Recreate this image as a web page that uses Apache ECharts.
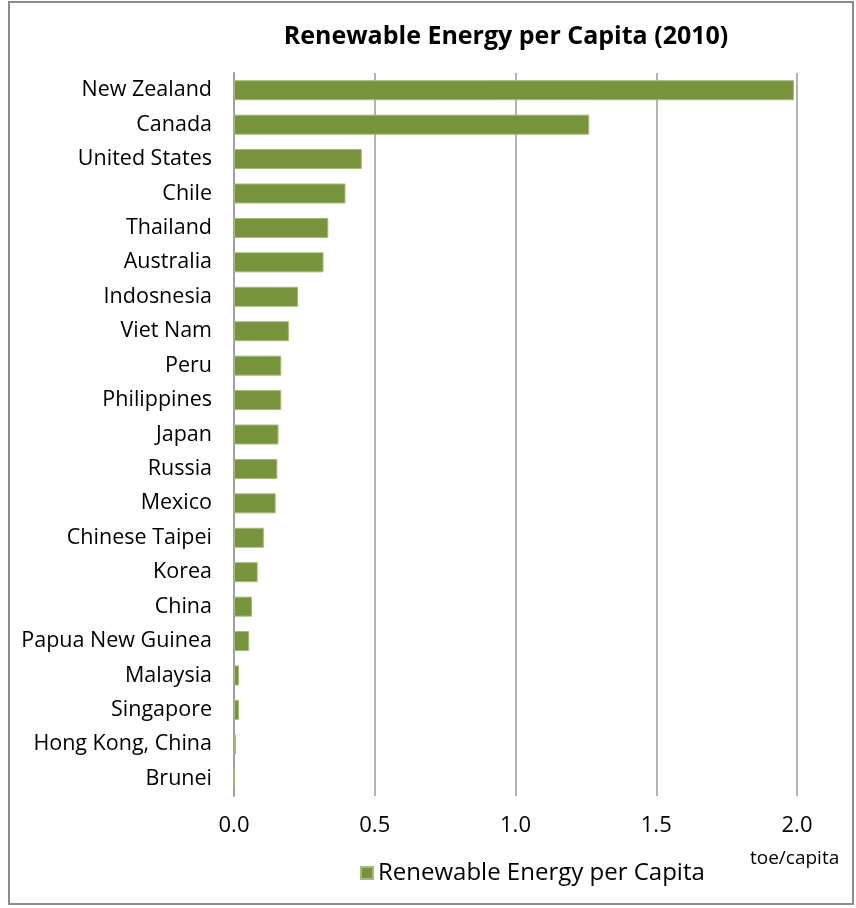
<!DOCTYPE html>
<html>
<head>
<meta charset="utf-8">
<script src="https://cdn.jsdelivr.net/npm/echarts@6/dist/echarts.min.js"></script>
<style>
html,body{margin:0;padding:0;background:#fff;}
#c{width:856px;height:908px;}
</style>
</head>
<body>
<div id="c"></div>
<script>
const categories = ["New Zealand","Canada","United States","Chile","Thailand","Australia","Indosnesia","Viet Nam","Peru","Philippines","Japan","Russia","Mexico","Chinese Taipei","Korea","China","Papua New Guinea","Malaysia","Singapore","Hong Kong, China","Brunei"];
const values = [1.989,1.262,0.454,0.396,0.335,0.318,0.228,0.195,0.168,0.168,0.158,0.154,0.148,0.106,0.084,0.064,0.054,0.018,0.018,0.007,0.0];
const xTicks = {min:0, max:2, interval:0.5};
const seriesName = "Renewable Energy per Capita";
const titleText = "Renewable Energy per Capita (2010)";
const unitText = "toe/capita";

const FONT = "'Open Sans', 'Noto Sans', sans-serif";
const chart = echarts.init(document.getElementById('c'), null, {renderer:'canvas'});
chart.setOption({
  animation:false,
  backgroundColor:'#fff',
  title:{text:titleText, left:501, textAlign:'center', top:19,
    textStyle:{fontFamily:FONT, fontSize:25, fontWeight:'bold', color:'#000'}},
  grid:{left:234, right:59, top:73, bottom:112, containLabel:false},
  legend:{data:[seriesName], left:355, top:856, icon:'rect', itemWidth:12, itemHeight:12, itemGap:5,
    textStyle:{fontFamily:FONT, fontSize:24, color:'#000'}},
  xAxis:{type:'value', min:xTicks.min, max:xTicks.max, interval:xTicks.interval,
    axisLine:{show:false}, axisTick:{show:false},
    axisLabel:{fontFamily:FONT, fontSize:22, color:'#000', margin:19, formatter:v=>v.toFixed(1)},
    splitLine:{show:true, lineStyle:{color:'#9a9a9a', width:1.5}}},
  yAxis:{type:'category', data:categories, inverse:true,
    axisLine:{show:true, lineStyle:{color:'#a0a0a0', width:2}}, axisTick:{show:false},
    axisLabel:{fontFamily:FONT, fontSize:21.5, color:'#000', margin:22, padding:[4,0,0,0]}},
  series:[{name:seriesName, type:'bar', data:values, barWidth:20,
    itemStyle:{color:'#77933C', borderColor:'#A4BA7C', borderWidth:1}}],
  graphic:[
    {type:'text', left:750, top:849, style:{text:unitText, fontFamily:FONT, fontSize:19, fill:'#000'}},
    {type:'rect', shape:{x:9, y:2, width:844, height:902}, style:{fill:'none', stroke:'#8c8c8c', lineWidth:2}, z:-1}
  ]
});
</script>
</body>
</html>
